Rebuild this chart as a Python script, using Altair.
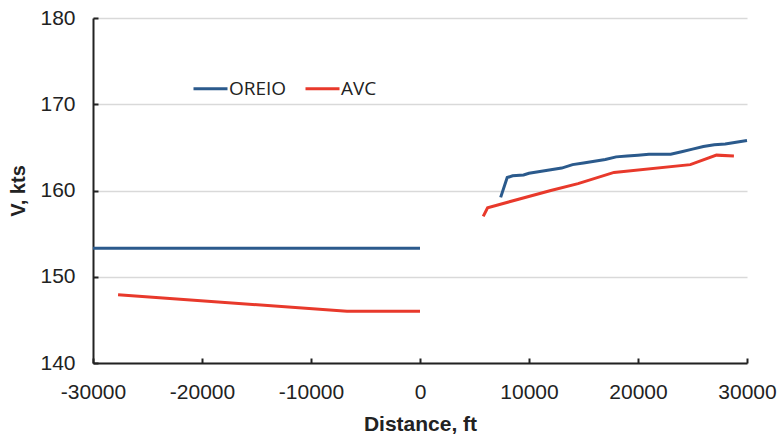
import altair as alt
import pandas as pd

# --- data ---
series_names = ["OREIO", "AVC"]
series_colors = ["#2B5A8C", "#E8392B"]

oreio_x_before = [-30000, 0]
oreio_y_before = [153.3, 153.3]
oreio_x_after = [7400, 8000, 8500, 9500, 10000, 11000, 12000, 13000, 14000, 15000,
                 16000, 17000, 18000, 19000, 20000, 21000, 22000, 23000, 24000,
                 25000, 26000, 27000, 28000, 29000, 30000]
oreio_y_after = [159.2, 161.5, 161.7, 161.8, 162.0, 162.2, 162.4, 162.6, 163.0, 163.2,
                 163.4, 163.6, 163.9, 164.0, 164.1, 164.2, 164.2, 164.2, 164.5,
                 164.8, 165.1, 165.3, 165.4, 165.6, 165.8]

avc_x_before = [-27700, -6700, 0]
avc_y_before = [147.9, 146.0, 146.0]
avc_x_after = [5800, 6200, 12000, 14500, 17800, 24800, 27200, 28800]
avc_y_after = [157.0, 158.0, 160.0, 160.8, 162.1, 163.0, 164.1, 164.0]

x_ticks = [-30000, -20000, -10000, 0, 10000, 20000, 30000]
y_ticks = [140, 150, 160, 170, 180]

rows = []
for name, seg, xs, ys in [
    ("OREIO", "OREIO-a", oreio_x_before, oreio_y_before),
    ("OREIO", "OREIO-b", oreio_x_after, oreio_y_after),
    ("AVC", "AVC-a", avc_x_before, avc_y_before),
    ("AVC", "AVC-b", avc_x_after, avc_y_after),
]:
    for i, (xv, yv) in enumerate(zip(xs, ys)):
        rows.append({"series": name, "segment": seg, "x": xv, "y": yv, "i": i})
df = pd.DataFrame(rows)

W, H = 654, 345
FONT = "Liberation Sans"
INK = "#222222"

xscale = alt.Scale(domain=[-30000, 30000], nice=False, zero=False)
yscale = alt.Scale(domain=[140, 180], nice=False, zero=False)

main = alt.Chart(df).mark_line(strokeWidth=3).encode(
    x=alt.X("x:Q", scale=xscale, title="Distance, ft",
            axis=alt.Axis(values=x_ticks, grid=False, ticks=False, domain=True,
                          domainColor=INK, domainWidth=2,
                          labelExpr="datum.value + ''",
                          labelFont=FONT, labelFontSize=21, labelColor=INK,
                          labelPadding=18, labelFlush=False,
                          titleFont=FONT, titleFontSize=21, titleFontWeight="bold",
                          titleColor=INK, titlePadding=11)),
    y=alt.Y("y:Q", scale=yscale, title="V, kts",
            axis=alt.Axis(values=y_ticks, grid=True, gridColor="#d9d9d9", gridWidth=1.5,
                          ticks=False, domain=True, domainColor=INK, domainWidth=2,
                          labelExpr="datum.value + ''",
                          labelFont=FONT, labelFontSize=21, labelColor=INK,
                          labelPadding=18,
                          titleFont=FONT, titleFontSize=20, titleFontWeight="bold",
                          titleColor=INK, titlePadding=11)),
    color=alt.Color("series:N",
                    scale=alt.Scale(domain=series_names, range=series_colors),
                    sort=series_names,
                    legend=alt.Legend(title=None, orient="none", direction="horizontal",
                                      legendX=99, legendY=52,
                                      symbolType="stroke", symbolSize=1156,
                                      symbolStrokeWidth=3, columnPadding=12,
                                      labelFont="Open Sans", labelFontSize=19,
                                      labelColor=INK, labelOffset=0)),
    detail="segment:N",
    order="i:Q",
)

ticks_layer = alt.Chart(df).mark_line(opacity=0).encode(
    x=alt.X("x:Q", scale=xscale,
            axis=alt.Axis(orient="top", offset=-H, values=x_ticks, labels=False,
                          domain=False, grid=False, ticks=True, tickSize=5,
                          tickWidth=2, tickColor=INK, title=None)),
    y=alt.Y("y:Q", scale=yscale,
            axis=alt.Axis(orient="right", offset=-W, values=y_ticks, labels=False,
                          domain=False, grid=False, ticks=True, tickSize=5,
                          tickWidth=2, tickColor=INK, title=None)),
    detail="segment:N",
)

chart = alt.layer(main, ticks_layer).resolve_axis(
    x="independent", y="independent"
).properties(
    width=W, height=H,
    autosize=alt.AutoSizeParams(type="none"),
    padding={"left": 93, "top": 18, "right": 34, "bottom": 75},
    background="white",
).configure_view(stroke=None)

chart.save("out.html", embed_options={"renderer": "svg", "actions": False})
